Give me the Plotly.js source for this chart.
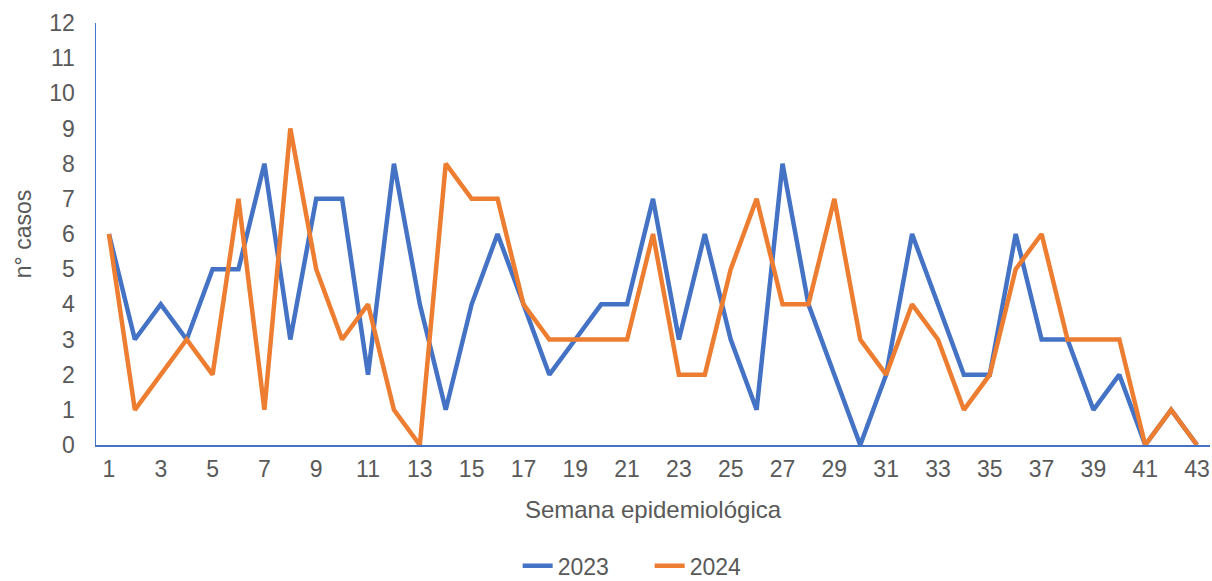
<!DOCTYPE html>
<html>
<head>
<meta charset="utf-8">
<script src="https://cdn.plot.ly/plotly-3.0.1.min.js"></script>
<style>html,body{margin:0;padding:0;background:#fff;}#chart{width:1212px;height:581px;}</style>
</head>
<body>
<div id="chart"></div>
<script>
var weeks = [];
for (var i = 1; i <= 43; i++) weeks.push(i);
var cases2023 = [6,3,4,3,5,5,8,3,7,7,2,8,4,1,4,6,4,2,3,4,4,7,3,6,3,1,8,4,2,0,2,6,4,2,2,6,3,3,1,2,0,1,0];
var cases2024 = [6,1,2,3,2,7,1,9,5,3,4,1,0,8,7,7,4,3,3,3,3,6,2,2,5,7,4,4,7,3,2,4,3,1,2,5,6,3,3,3,0,1,0];
var xTickVals = [1,3,5,7,9,11,13,15,17,19,21,23,25,27,29,31,33,35,37,39,41,43];
var yTickVals = [0,1,2,3,4,5,6,7,8,9,10,11,12];

var tickFont = {family: 'Liberation Sans, Arial, sans-serif', size: 23, color: '#595959'};
var titleFont = {family: 'Liberation Sans, Arial, sans-serif', size: 24, color: '#595959'};

var traces = [
  {x: weeks, y: cases2023, type: 'scatter', mode: 'lines', name: '2023',
   line: {color: '#4472C4', width: 4.5, shape: 'linear'}},
  {x: weeks, y: cases2024, type: 'scatter', mode: 'lines', name: '2024',
   line: {color: '#ED7D31', width: 4.5, shape: 'linear'}}
];

var layout = {
  width: 1212, height: 581,
  margin: {l: 96, r: 2, t: 23, b: 136, autoexpand: false},
  paper_bgcolor: '#fff', plot_bgcolor: '#fff',
  font: tickFont,
  showlegend: true,
  hovermode: false,
  legend: {orientation: 'h', x: 0.497, xanchor: 'center', y: -0.286, yanchor: 'middle',
           font: tickFont, traceorder: 'normal', entrywidth: 87, entrywidthmode: 'pixels'},
  xaxis: {
    range: [0.5, 43.5], tickvals: xTickVals, ticktext: xTickVals.map(String),
    showgrid: false, zeroline: false, showline: true, linecolor: '#4472C4', linewidth: 1.5,
    ticks: 'outside', ticklen: 3, tickcolor: 'rgba(0,0,0,0)',
    tickfont: tickFont, automargin: false,
    title: {text: 'Semana epidemiológica', font: titleFont, standoff: 20}
  },
  yaxis: {
    range: [0, 12], tickvals: yTickVals,
    showgrid: false, zeroline: false, showline: true, linecolor: '#4472C4', linewidth: 1.5,
    ticks: 'outside', ticklen: 15, tickcolor: 'rgba(0,0,0,0)',
    tickfont: tickFont, automargin: false,
    title: {text: 'n° casos', font: tickFont, standoff: 11}
  }
};

Plotly.newPlot('chart', traces, layout, {displayModeBar: false, staticPlot: true});
</script>
</body>
</html>
